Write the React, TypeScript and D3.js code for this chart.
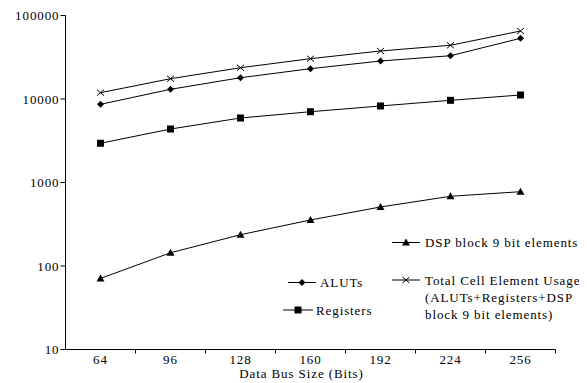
import * as d3 from 'd3';
import React from 'react';

// bus sizes on the x axis
const busSizes = ['64', '96', '128', '160', '192', '224', '256'];

// series values (log scale)
const aluts = [8640, 13060, 17990, 23070, 28510, 33000, 53300];
const registers = [2950, 4370, 5920, 7040, 8250, 9640, 11170];
const dspBlocks = [71, 144, 237, 356, 509, 684, 776];
const totalUsage = [11900, 17500, 23700, 30400, 37600, 44000, 65200];

const yTicks = [10, 100, 1000, 10000, 100000];

const WIDTH = 587;
const HEIGHT = 383;
const FONT = 'Liberation Serif, Times New Roman, serif';

type Marker = 'diamond' | 'square' | 'triangle' | 'cross';

function MarkerShape({ kind, x, y }: { kind: Marker; x: number; y: number }) {
  if (kind === 'diamond') {
    return <path d={`M${x},${y - 3.5}L${x + 3.5},${y}L${x},${y + 3.5}L${x - 3.5},${y}Z`} fill="#000" />;
  }
  if (kind === 'square') {
    return <rect x={x - 3.5} y={y - 3.5} width={7} height={7} fill="#000" />;
  }
  if (kind === 'triangle') {
    return <path d={`M${x},${y - 4}L${x + 4},${y + 3}L${x - 4},${y + 3}Z`} fill="#000" />;
  }
  return (
    <path
      d={`M${x - 3.5},${y - 3}L${x + 3.5},${y + 3}M${x - 3.5},${y + 3}L${x + 3.5},${y - 3}`}
      stroke="#000"
      strokeWidth={1}
      fill="none"
    />
  );
}

export default function App() {
  const margin = { left: 65.5, right: 31.5, top: 15.5, bottom: 33.5 };
  const innerW = WIDTH - margin.left - margin.right;

  const x = d3.scaleBand().domain(busSizes).range([margin.left, WIDTH - margin.right]);
  const y = d3.scaleLog().domain([10, 100000]).range([HEIGHT - margin.bottom, margin.top]);

  const cx = (d: string) => (x(d) ?? 0) + x.bandwidth() / 2;

  const series: { name: string; values: number[]; marker: Marker }[] = [
    { name: 'Total', values: totalUsage, marker: 'cross' },
    { name: 'ALUTs', values: aluts, marker: 'diamond' },
    { name: 'Registers', values: registers, marker: 'square' },
    { name: 'DSP', values: dspBlocks, marker: 'triangle' },
  ];

  const line = d3
    .line<number>()
    .x((_, i) => cx(busSizes[i]))
    .y((v) => y(v));

  const y0 = y(10);
  const bandEdges = busSizes.map((d) => x(d) ?? 0).concat([WIDTH - margin.right]);

  const legendItem = (kind: Marker, x1: number, x2: number, ly: number) => (
    <g>
      <line x1={x1} x2={x2} y1={ly} y2={ly} stroke="#000" strokeWidth={1} />
      <MarkerShape kind={kind} x={(x1 + x2) / 2} y={ly} />
    </g>
  );

  const txt = { fontFamily: FONT, fontSize: 13, letterSpacing: 0.9 };

  return (
    <svg
      width={WIDTH}
      height={HEIGHT}
      style={{ position: 'absolute', left: 0, top: 0, background: '#fff' }}
    >
      {/* y axis */}
      <line x1={margin.left} x2={margin.left} y1={margin.top} y2={y0} stroke="#000" />
      {yTicks.map((t) => (
        <g key={t}>
          <line x1={margin.left - 5} x2={margin.left} y1={y(t)} y2={y(t)} stroke="#000" />
          <text x={margin.left - 6} y={y(t) + 4.5} textAnchor="end" {...txt}>
            {t}
          </text>
        </g>
      ))}

      {/* x axis */}
      <line x1={margin.left} x2={WIDTH - margin.right} y1={y0} y2={y0} stroke="#000" />
      {bandEdges.slice(1).map((e, i) => (
        <line key={i} x1={e} x2={e} y1={y0} y2={y0 + 4} stroke="#000" />
      ))}
      {busSizes.map((d) => (
        <text key={d} x={cx(d)} y={y0 + 14} textAnchor="middle" {...txt}>
          {d}
        </text>
      ))}
      <text x={margin.left + innerW / 2 - 9} y={y0 + 28} textAnchor="middle" {...txt}>
        Data Bus Size (Bits)
      </text>

      {/* series */}
      {series.map((s) => (
        <g key={s.name}>
          <path d={line(s.values) ?? ''} fill="none" stroke="#000" strokeWidth={1} />
          {s.values.map((v, i) => (
            <MarkerShape key={i} kind={s.marker} x={cx(busSizes[i])} y={y(v)} />
          ))}
        </g>
      ))}

      {/* legend */}
      {legendItem('triangle', 392, 420, 242.5)}
      <text x={425} y={247} {...txt}>DSP block 9 bit elements</text>

      {legendItem('cross', 392, 420, 280)}
      <text x={425} y={284.5} {...txt}>Total Cell Element Usage</text>
      <text x={425} y={302} {...txt}>(ALUTs+Registers+DSP</text>
      <text x={425} y={319} {...txt}>block 9 bit elements)</text>

      {legendItem('diamond', 288, 316, 282.5)}
      <text x={320} y={287} {...txt}>ALUTs</text>

      {legendItem('square', 283, 313, 310)}
      <text x={316} y={314.5} {...txt}>Registers</text>
    </svg>
  );
}
